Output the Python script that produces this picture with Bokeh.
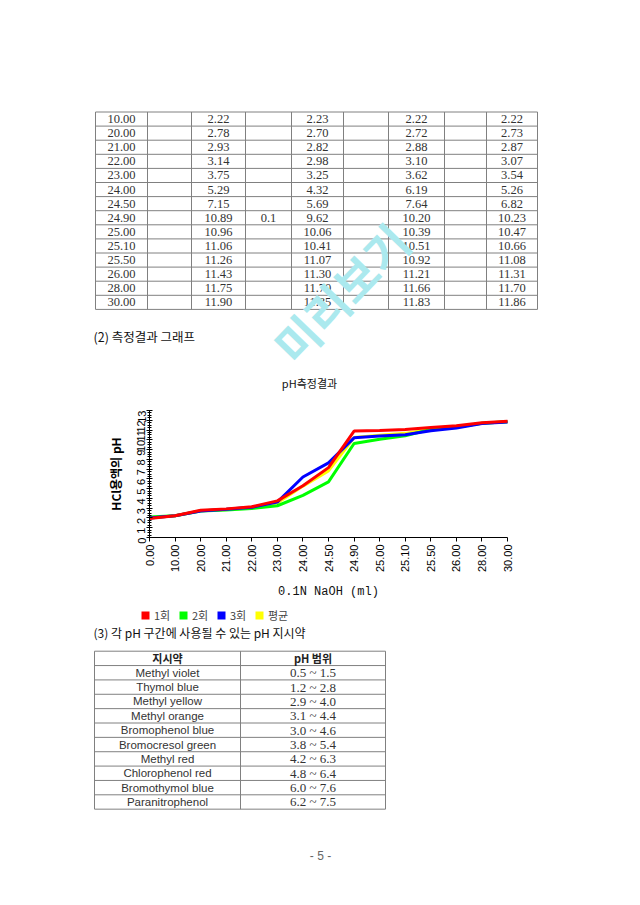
import math
from bokeh.plotting import figure
from bokeh.models import (Range1d, FixedTicker, SingleIntervalTicker, Legend, LegendItem,
                          ColumnDataSource, LinearAxis)
from bokeh.embed import file_html
from bokeh.resources import INLINE
from bokeh.core.properties import value

# ---------------- data ----------------
volumes = ["0.00", "10.00", "20.00", "21.00", "22.00", "23.00", "24.00", "24.50",
           "24.90", "25.00", "25.10", "25.50", "26.00", "28.00", "30.00"]
run1 = [1.95, 2.22, 2.78, 2.93, 3.14, 3.75, 5.29, 7.15, 10.89, 10.96, 11.06, 11.26, 11.43, 11.75, 11.90]
run2 = [2.10, 2.23, 2.70, 2.82, 2.98, 3.25, 4.32, 5.69, 9.62, 10.06, 10.41, 11.07, 11.30, 11.70, 11.85]
run3 = [2.00, 2.22, 2.72, 2.88, 3.10, 3.62, 6.19, 7.64, 10.20, 10.39, 10.51, 10.92, 11.21, 11.66, 11.83]
avg = [2.02, 2.22, 2.73, 2.87, 3.07, 3.54, 5.26, 6.82, 10.23, 10.47, 10.66, 11.08, 11.31, 11.70, 11.86]
naoh_note = ["", "", "", "", "", "", "", "0.1", "", "", "", "", "", ""]  # stray cell, rows 10.00..30.00
series_names = ["1회", "2회", "3회", "평균"]
series_colors = ["#ff0000", "#00ff00", "#0000ff", "#ffff00"]

indicators = ["Methyl violet", "Thymol blue", "Methyl yellow", "Methyl orange", "Bromophenol blue",
              "Bromocresol green", "Methyl red", "Chlorophenol red", "Bromothymol blue", "Paranitrophenol"]
ph_low = ["0.5", "1.2", "2.9", "3.1", "3.0", "3.8", "4.2", "4.8", "6.0", "6.2"]
ph_high = ["1.5", "2.8", "4.0", "4.4", "4.6", "5.4", "6.3", "6.4", "7.6", "7.5"]

# ---------------- page geometry (pixels) ----------------
PW, PH = 638, 903
FL, FR, FT, FB = 149, 507, 410, 537      # chart plot area on the page
NX = len(volumes) - 1
YMAX = 13
sx = (FR - FL) / NX
sy = (FB - FT) / YMAX

p = figure(width=PW, height=PH, x_range=Range1d(0, PW), y_range=Range1d(PH, 0),
           output_backend="svg", toolbar_location=None, x_axis_location=None, y_axis_location=None,
           min_border=0, min_border_left=0, min_border_right=0, min_border_top=0, min_border_bottom=0)
p.grid.visible = False
p.outline_line_color = None
p.extra_x_ranges = {"cx": Range1d(0 - FL / sx, NX + (PW - FR) / sx)}
p.extra_y_ranges = {"cy": Range1d(0 - (PH - FB) / sy, YMAX + FT / sy)}

KR = value("Noto Sans CJK KR")
SERIF = value("Liberation Serif")
SANS = value("Liberation Sans")
GRID = "#808080"


def txt(xs, ys, texts, font, size, color="#333333", align="center", style="normal", angle=0):
    p.text(x=xs, y=ys, text=texts, text_font=font, text_font_size=value(size), text_color=color,
           text_align=align, text_baseline="middle", text_font_style=style, angle=angle, angle_units="deg")


# ---------------- top data table ----------------
col_x = [95, 147, 191, 245, 291, 343, 388, 444, 486, 537]
tbl_top, row_h = 111.5, 14.1
rows = volumes[1:]
n = len(rows)
tbl_bot = tbl_top + n * row_h
hy = [tbl_top + i * row_h for i in range(n + 1)]
p.segment(x0=[col_x[0]] * len(hy), y0=hy, x1=[col_x[-1]] * len(hy), y1=hy, line_color=GRID, line_width=1)
p.segment(x0=col_x, y0=[tbl_top] * len(col_x), x1=col_x, y1=[tbl_bot] * len(col_x), line_color=GRID, line_width=1)
cy = [tbl_top + (i + 0.5) * row_h for i in range(n)]
cols = [(0, rows), (2, ["%.2f" % v for v in run1[1:]]), (3, naoh_note),
        (4, ["%.2f" % v for v in run2[1:]]), (6, ["%.2f" % v for v in run3[1:]]),
        (8, ["%.2f" % v for v in avg[1:]])]
for ci, t in cols:
    txt([(col_x[ci] + col_x[ci + 1]) / 2] * n, cy, t, SERIF, "12.5px")

txt([93], [336], ["(2) 측정결과 그래프"], KR, "12.5px", color="#111111", align="left")
txt([309], [382], ["pH측정결과"], KR, "11px", color="#111111")

# ---------------- chart ----------------
idx = list(range(len(volumes)))
src = ColumnDataSource(dict(x=idx, r1=run1, r2=run2, r3=run3, av=avg))
for key, col in [("av", series_colors[3]), ("r2", series_colors[1]), ("r3", series_colors[2]),
                 ("r1", series_colors[0])]:
    p.line("x", key, source=src, line_color=col, line_width=3, x_range_name="cx", y_range_name="cy")

xa = LinearAxis(x_range_name="cx", y_range_name="cy", fixed_location=0, bounds=(0, NX))
xa.ticker = FixedTicker(ticks=idx)
xa.major_label_overrides = {i: v for i, v in zip(idx, volumes)}
xa.major_label_orientation = math.pi / 2
xa.major_label_text_font = "Liberation Sans"
xa.major_label_text_font_size = "11px"
xa.major_label_text_color = "#000000"
xa.major_label_standoff = 3
xa.major_tick_in = 0
xa.major_tick_out = 4
xa.minor_tick_line_color = None
xa.axis_line_color = "#000000"
xa.major_tick_line_color = "#000000"
xa.axis_label = "0.1N NaOH (ml)"
xa.axis_label_text_font = "Liberation Mono"
xa.axis_label_text_font_size = "12px"
xa.axis_label_text_font_style = "normal"
xa.axis_label_text_color = "#111111"
xa.axis_label_standoff = 10
p.add_layout(xa, "below")

ya = LinearAxis(x_range_name="cx", y_range_name="cy", fixed_location=0, bounds=(0, YMAX))
ya.ticker = SingleIntervalTicker(interval=1, num_minor_ticks=4)
ya.major_label_orientation = math.pi / 2
ya.major_label_text_font = "Liberation Sans"
ya.major_label_text_font_size = "11px"
ya.major_label_text_color = "#000000"
ya.major_label_standoff = 5
ya.major_tick_in = 3
ya.major_tick_out = 3
ya.minor_tick_in = 2
ya.minor_tick_out = 2
ya.axis_line_color = "#000000"
ya.major_tick_line_color = "#000000"
ya.minor_tick_line_color = "#000000"
ya.axis_label = "HCl용액의 pH"
ya.axis_label_text_font = "Noto Sans CJK KR"
ya.axis_label_text_font_size = "12px"
ya.axis_label_text_font_style = "bold"
ya.axis_label_text_color = "#000000"
ya.axis_label_standoff = 7
p.add_layout(ya, "left")

# legend: swatch renderers hold one empty (NaN) box each, so only the legend shows them
nan = float("nan")
items = []
for name, col in zip(series_names, series_colors):
    r = p.quad(left=[nan], right=[nan], top=[nan], bottom=[nan], fill_color=col, line_color=None)
    items.append(LegendItem(label=name, renderers=[r]))
leg = Legend(items=items, orientation="horizontal", location=(140, PH - 611 - 12), glyph_width=10,
             glyph_height=10, label_height=12, label_standoff=4, spacing=4, padding=0, margin=0,
             border_line_color=None, background_fill_alpha=0, label_text_font="Noto Sans CJK KR",
             label_text_font_size="11px", label_text_color="#444444")
p.add_layout(leg)

# ---------------- bottom indicator table ----------------
txt([93], [631.5], ["(3) 각 pH 구간에 사용될 수 있는 pH 지시약"], KR, "12px", color="#111111", align="left")
bx = [94, 240, 385]
b_top, b_h = 650.7, 14.36
nb = len(indicators) + 1
b_bot = b_top + nb * b_h
bhy = [b_top + i * b_h for i in range(nb + 1)]
p.segment(x0=[bx[0]] * len(bhy), y0=bhy, x1=[bx[-1]] * len(bhy), y1=bhy, line_color=GRID, line_width=1)
p.segment(x0=bx, y0=[b_top] * 3, x1=bx, y1=[b_bot] * 3, line_color=GRID, line_width=1)
bcy = [b_top + (i + 0.5) * b_h for i in range(nb)]
txt([(bx[0] + bx[1]) / 2, (bx[1] + bx[2]) / 2], [bcy[0]] * 2, ["지시약", "pH 범위"], KR, "11px",
    color="#222222", style="bold")
txt([(bx[0] + bx[1]) / 2] * len(indicators), bcy[1:], indicators, SANS, "11.5px")
txt([(bx[1] + bx[2]) / 2] * len(indicators), bcy[1:],
    ["%s ~ %s" % (a, b) for a, b in zip(ph_low, ph_high)], SERIF, "13px")
txt([320], [855], ["- 5 -"], SANS, "12px", color="#666666")

# ---------------- watermark (drawn last, on top) ----------------
txt([340], [292], ["미리보기"], KR, "46px", color="#abe9ee", style="bold", angle=46)

open("out.html", "w").write(file_html(p, INLINE))
